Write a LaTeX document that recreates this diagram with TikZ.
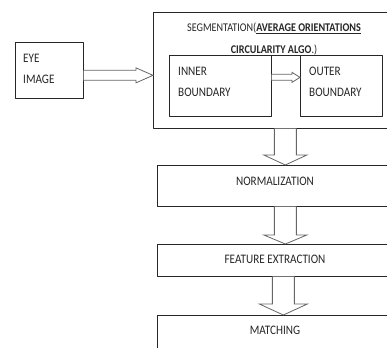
\documentclass[tikz,border=0pt]{standalone}
\usepackage{fontspec}
\setmainfont[FakeStretch=0.86]{Carlito}
\usetikzlibrary{calc}

\tikzset{
  box/.style={draw=black!85, line width=0.7pt, inner sep=0, anchor=north west},
  txt/.style={text=black!85, inner sep=0, font=\fontsize{13}{21}\selectfont},
  hollow/.style={draw=black!60, line width=0.8pt, fill=white, line join=miter}
}

% hollow block arrows: start, tip, shaft half width, head half width, head length
\newcommand{\hollowdown}[5]{%
  \draw[hollow] let \p1=(#1), \p2=(#2) in
    (\x1-#3pt,\y1) -- (\x1-#3pt,\y2+#5pt) -- (\x1-#4pt,\y2+#5pt) -- (\x1,\y2)
    -- (\x1+#4pt,\y2+#5pt) -- (\x1+#3pt,\y2+#5pt) -- (\x1+#3pt,\y1);}
\newcommand{\hollowright}[5]{%
  \draw[hollow] let \p1=(#1), \p2=(#2) in
    (\x1,\y1+#3pt) -- (\x2-#5pt,\y1+#3pt) -- (\x2-#5pt,\y1+#4pt) -- (\x2,\y1)
    -- (\x2-#5pt,\y1-#4pt) -- (\x2-#5pt,\y1-#3pt) -- (\x1,\y1-#3pt);}

\begin{document}
\begin{tikzpicture}[line cap=round,line join=round,x=1pt,y=-1pt]
      \useasboundingbox (0,0) rectangle (387,347);
      \clip (0,0) rectangle (387,347);

      % boxes
      \node[box, minimum width=68, minimum height=56] (eye) at (15,42) {};
      \node[box, minimum width=242, minimum height=116] (seg) at (153,12) {};
      \node[box, minimum width=102, minimum height=61] (inner) at (169,55) {};
      \node[box, minimum width=82, minimum height=61] (outer) at (300,55) {};
      \node[box, minimum width=236, minimum height=41] (norm) at (157,165) {};
      \node[box, minimum width=236, minimum height=32] (feat) at (157,244) {};
      \node[box, minimum width=236, minimum height=45] (match) at (157,315) {};

      % texts
      \node[txt, anchor=west, align=left] (eyetxt) at (23,68.5) {EYE\\IMAGE};
      \node[txt, align=center, font=\fontsize{11.8}{22}\selectfont] (segtxt) at (274,39)
        {SEGMENTATION(\underline{\textbf{AVERAGE ORIENTATIONS}}\\\underline{\textbf{CIRCULARITY ALGO}}.)};
      \node[txt, anchor=west, align=left] (innertxt) at (178,81.5) {INNER\\BOUNDARY};
      \node[txt, anchor=west, align=left] (outertxt) at (309,81.5) {OUTER\\BOUNDARY};
      \node[txt] (normtxt) at (275,181) {NORMALIZATION};
      \node[txt] (feattxt) at (275,259) {FEATURE EXTRACTION};
      \node[txt] (matchtxt) at (275,330) {MATCHING};

      % arrows
      \hollowright{$(eye.east)+(0,5)$}{seg.west}{5}{7.5}{17}
      \hollowright{$(inner.east)+(0,-8.5)$}{outer.west}{3}{5}{8}
      \hollowdown{$(seg.south)+(11,0)$}{norm.north}{11}{21.5}{10}
      \hollowdown{$(norm.south)+(10,0)$}{feat.north}{11}{21.5}{9}
      \hollowdown{$(feat.south)+(8,0)$}{match.north}{11}{24}{11}

\end{tikzpicture}
\end{document}
